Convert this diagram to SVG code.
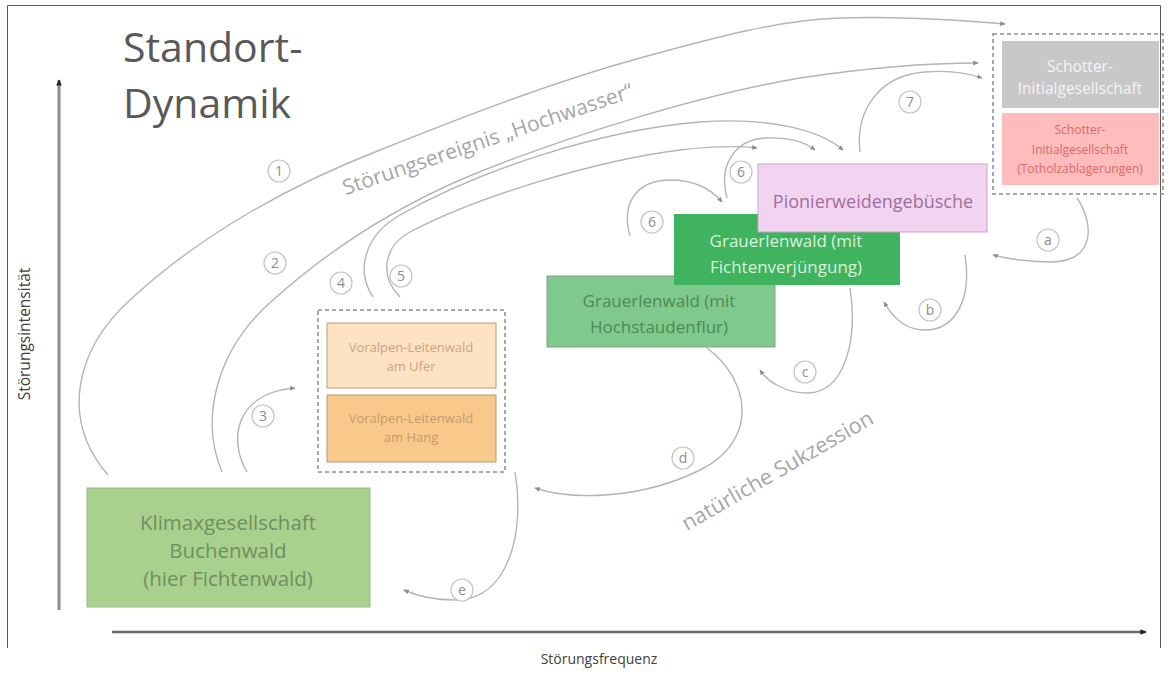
<svg xmlns="http://www.w3.org/2000/svg" width="1168" height="673" viewBox="0 0 1168 673">
<defs>
<style>
text{font-family:"Open Sans","Liberation Sans",sans-serif}
.con{fill:none;stroke:#b4b4b4;stroke-width:1.4}
.lbl circle{fill:#fff;stroke:#c4c4c4;stroke-width:1.2}
.lbl text{font-size:14px;fill:#8c8c8c;text-anchor:middle}
.mid{text-anchor:middle}
</style>
<marker id="ah" viewBox="0 0 10 10" refX="8" refY="5" markerWidth="6" markerHeight="6" orient="auto" markerUnits="userSpaceOnUse">
<path d="M0,1 L9,5 L0,9 z" fill="#8c8c8c"/>
</marker>
<marker id="ax" viewBox="0 0 10 10" refX="8" refY="5" markerWidth="7" markerHeight="7" orient="auto" markerUnits="userSpaceOnUse">
<path d="M0,1 L9,5 L0,9 z" fill="#222"/>
</marker>
</defs>
<rect width="1168" height="673" fill="#fff"/>
<path d="M7.5,648 V5.5 H1160.5 V648" fill="none" stroke="#595959" stroke-width="1"/>

<g id="title">
<text x="123" y="62" font-size="41" fill="#595959">Standort-</text>
<text x="123" y="118" font-size="41" fill="#595959">Dynamik</text>
</g>

<g id="axes">
<line x1="59" y1="610" x2="59" y2="80" stroke="#8c8c8c" stroke-width="3" marker-end="url(#ax)"/>
<line x1="112" y1="632" x2="1146" y2="632" stroke="#6b6b6b" stroke-width="2.5" marker-end="url(#ax)"/>
<text transform="translate(30,334) rotate(-90)" class="mid" font-size="15.5" fill="#404040">Störungsintensität</text>
<text x="599" y="664" class="mid" font-size="14" fill="#404040">Störungsfrequenz</text>
</g>

<g id="connectors">
<path class="con" marker-end="url(#ah)" d="M108,475 C60,420 75,350 130,300 C200,235 290,185 380,150 C480,110 560,80 640,58 C720,36 780,20 840,18 C900,16 960,20 1005,24"/>
<path class="con" marker-end="url(#ah)" d="M222,472 C200,420 215,350 273,300 C320,258 380,215 460,180 C560,138 700,95 800,78 C880,66 940,63 978,63"/>
<path class="con" marker-end="url(#ah)" d="M247,472 C228,440 235,393 295,388"/>
<path class="con" marker-end="url(#ah)" d="M373,297 C355,270 365,235 400,215 C480,170 600,130 700,122 C770,117 820,130 843,150"/>
<path class="con" marker-end="url(#ah)" d="M400,297 C378,275 385,245 410,232 C480,195 600,160 680,150 C715,146 740,146 757,148"/>
<path class="con" marker-end="url(#ah)" d="M630,236 C620,200 640,180 670,180 C695,180 712,190 722,202"/>
<path class="con" marker-end="url(#ah)" d="M727,198 C718,165 735,140 765,138 C790,137 805,142 815,150"/>
<path class="con" marker-end="url(#ah)" d="M860,152 C855,110 880,75 925,72 C950,70 968,73 982,78"/>
<path class="con" marker-end="url(#ah)" d="M1077,198 C1095,225 1095,262 1050,262 C1025,262 1005,258 993,255"/>
<path class="con" marker-end="url(#ah)" d="M965,255 C972,300 955,330 925,330 C905,330 893,318 884,302"/>
<path class="con" marker-end="url(#ah)" d="M850,288 C858,340 845,392 808,393 C785,393 768,382 760,370"/>
<path class="con" marker-end="url(#ah)" d="M707,348 C750,380 760,440 700,470 C640,500 570,500 535,488"/>
<path class="con" marker-end="url(#ah)" d="M515,472 C525,530 510,600 455,600 C430,600 415,595 404,590"/>
</g>

<g id="event-labels">
<text transform="translate(490,146) rotate(-18.8)" class="mid" font-size="21" fill="#a6a6a6">Störungsereignis „Hochwasser“</text>
<text transform="translate(781,477) rotate(-30)" class="mid" font-size="21.5" fill="#a6a6a6">natürliche Sukzession</text>
</g>

<g id="labels">
<g class="lbl"><circle cx="279" cy="171" r="11"/><text x="279" y="176">1</text></g>
<g class="lbl"><circle cx="275" cy="263" r="11"/><text x="275" y="268">2</text></g>
<g class="lbl"><circle cx="263" cy="416" r="11"/><text x="263" y="421">3</text></g>
<g class="lbl"><circle cx="341" cy="283" r="11"/><text x="341" y="288">4</text></g>
<g class="lbl"><circle cx="401" cy="276" r="11"/><text x="401" y="281">5</text></g>
<g class="lbl"><circle cx="652" cy="222" r="11"/><text x="652" y="227">6</text></g>
<g class="lbl"><circle cx="741" cy="172" r="11"/><text x="741" y="177">6</text></g>
<g class="lbl"><circle cx="910" cy="102" r="11"/><text x="910" y="107">7</text></g>
<g class="lbl"><circle cx="1048" cy="240" r="11"/><text x="1048" y="245">a</text></g>
<g class="lbl"><circle cx="930" cy="310" r="11"/><text x="930" y="315">b</text></g>
<g class="lbl"><circle cx="805" cy="372" r="11"/><text x="805" y="377">c</text></g>
<g class="lbl"><circle cx="683" cy="458" r="11"/><text x="683" y="463">d</text></g>
<g class="lbl"><circle cx="462" cy="590" r="11"/><text x="462" y="595">e</text></g>
</g>

<g id="klimax">
<rect x="87" y="488" width="283" height="119" fill="#a9d18e" stroke="#9db58c" stroke-width="1"/>
<text x="228" y="530" class="mid" font-size="20.5" fill="#6f8f5f">Klimaxgesellschaft</text>
<text x="228" y="558" class="mid" font-size="20.5" fill="#6f8f5f">Buchenwald</text>
<text x="228" y="586" class="mid" font-size="20.5" fill="#6f8f5f">(hier Fichtenwald)</text>
</g>

<g id="voralpen-group">
<rect x="318" y="310" width="187" height="162" fill="none" stroke="#8c8c8c" stroke-width="1.5" stroke-dasharray="4 3"/>
</g>
<g id="voralpen-ufer">
<rect x="327" y="323" width="169" height="65" fill="#fde3c4" stroke="#b89a78" stroke-width="1"/>
<text x="411" y="352" class="mid" font-size="13" fill="#c9a57c">Voralpen-Leitenwald</text>
<text x="411" y="371" class="mid" font-size="13" fill="#c9a57c">am Ufer</text>
</g>
<g id="voralpen-hang">
<rect x="327" y="395" width="169" height="67" fill="#f9c98c" stroke="#b89a78" stroke-width="1"/>
<text x="411" y="423" class="mid" font-size="13" fill="#c39b6d">Voralpen-Leitenwald</text>
<text x="411" y="442" class="mid" font-size="13" fill="#c39b6d">am Hang</text>
</g>

<g id="grauerlen-hochstauden">
<rect x="547" y="276" width="228" height="71" fill="#80c98c" stroke="#8a9a8a" stroke-width="1"/>
<text x="659" y="307" class="mid" font-size="17" fill="#4d8a56">Grauerlenwald (mit</text>
<text x="659" y="333" class="mid" font-size="17" fill="#4d8a56">Hochstaudenflur)</text>
</g>

<g id="grauerlen-fichten">
<rect x="674" y="214" width="226" height="71" fill="#3fb35d"/>
<text x="786" y="247" class="mid" font-size="17" fill="#d9f2dd">Grauerlenwald (mit</text>
<text x="786" y="273" class="mid" font-size="17" fill="#d9f2dd">Fichtenverjüngung)</text>
</g>

<g id="pionier">
<rect x="758" y="164" width="229" height="68" fill="#f3d4f0" stroke="#c9a3c9" stroke-width="1"/>
<text x="873" y="208" class="mid" font-size="18" fill="#9e6f9e">Pionierweidengebüsche</text>
</g>

<g id="schotter-group">
<rect x="993" y="34" width="170" height="160" fill="none" stroke="#8c8c8c" stroke-width="1.5" stroke-dasharray="4 3"/>
</g>
<g id="schotter">
<rect x="1002" y="41" width="157" height="67" fill="#c8c8c8"/>
<text x="1080" y="72" class="mid" font-size="15.5" fill="#f4f4f4">Schotter-</text>
<text x="1080" y="94" class="mid" font-size="15.5" fill="#f4f4f4">Initialgesellschaft</text>
</g>
<g id="schotter-totholz">
<rect x="1002" y="113" width="157" height="72" fill="#ffbcbc"/>
<text x="1080" y="134" class="mid" font-size="12" fill="#d66a6a">Schotter-</text>
<text x="1080" y="154" class="mid" font-size="12" fill="#d66a6a">Initialgesellschaft</text>
<text x="1080" y="173" class="mid" font-size="12" fill="#d66a6a">(Totholzablagerungen)</text>
</g>
</svg>
